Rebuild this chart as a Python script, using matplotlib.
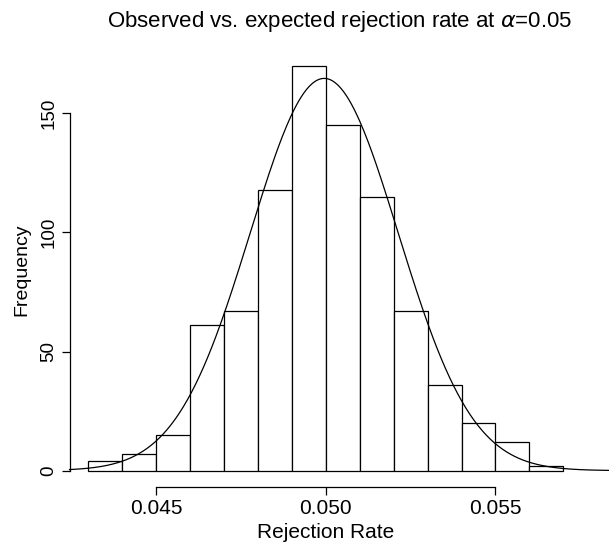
import numpy as np
import matplotlib
matplotlib.use("Agg")
import matplotlib.pyplot as plt

# histogram of observed rejection rates
bin_edges = [0.043, 0.044, 0.045, 0.046, 0.047, 0.048, 0.049, 0.050,
             0.051, 0.052, 0.053, 0.054, 0.055, 0.056, 0.057]
counts = [4, 7, 15, 61, 67, 118, 170, 145, 115, 67, 36, 20, 12, 2]

# expected (normal) curve
exp_mean = 0.04995
exp_sd = 0.00218
exp_scale = 0.9          # n * bin width
curve_from, curve_to = 0.04244, 0.0584

xticks = [0.045, 0.050, 0.055]
yticks = [0, 50, 100, 150]

plt.rcParams['font.family'] = ['Liberation Sans', 'DejaVu Sans']

fig = plt.figure(figsize=(6.09, 5.42), dpi=100)
W, H = 609, 542
# plot region in pixels (left, bottom, right, top)
L, B, R, T = 69.5, 486.8, 582.3, 49.6
ax = fig.add_axes([L / W, 1 - B / H, (R - L) / W, (B - T) / H])

lefts = np.array(bin_edges[:-1])
widths = np.diff(bin_edges)
ax.bar(lefts, counts, width=widths, align='edge', facecolor='white',
       edgecolor='black', linewidth=0.9)

xs = np.linspace(curve_from, curve_to, 400)
ys = exp_scale / (exp_sd * np.sqrt(2 * np.pi)) * np.exp(-(xs - exp_mean) ** 2 / (2 * exp_sd ** 2))
ax.plot(xs, ys, color='black', linewidth=0.9, clip_on=False)

ax.set_xlim(0.04244, 0.05756)
ax.set_ylim(-6.8, 176.8)

for s in ['top', 'right']:
    ax.spines[s].set_visible(False)
ax.spines['left'].set_bounds(0, 150)
ax.spines['bottom'].set_bounds(0.045, 0.055)
ax.spines['left'].set_linewidth(0.9)
ax.spines['bottom'].set_linewidth(0.9)

ax.set_xticks(xticks)
ax.set_xticklabels([f"{v:.3f}" for v in xticks])
ax.set_yticks(yticks)
ax.set_yticklabels([str(v) for v in yticks], rotation=90, va='center')
ax.tick_params(axis='x', length=5.5, width=0.9, pad=3, labelsize=15)
ax.tick_params(axis='y', length=5.5, width=0.9, pad=3, labelsize=13.5)

cx = (L + R) / 2 / W
fig.text(cx, 1 - 532 / H, "Rejection Rate", ha='center', va='center', fontsize=15)
fig.text(22 / W, 1 - 270 / H, "Frequency", ha='center', va='center',
         rotation=90, fontsize=14)
fig.text(340 / W, 1 - 22 / H, r"Observed vs. expected rejection rate at $\alpha$=0.05",
         ha='center', va='center', fontsize=16)

fig.savefig("out.png", dpi=100)
